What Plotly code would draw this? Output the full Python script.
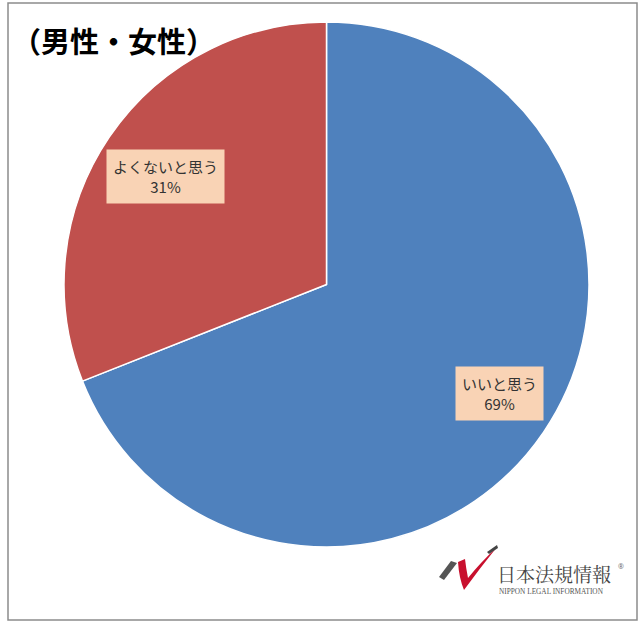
import plotly.graph_objects as go

labels = ["いいと思う", "よくないと思う"]
values = [69, 31]
colors = ["#4F81BD", "#C0504D"]
title_text = "（男性・女性）"

W, H = 640, 623

def px(x): return x / W
def py(y): return 1 - y / H

fig = go.Figure()
fig.add_trace(go.Pie(
    labels=labels, values=values, sort=False, direction="clockwise", rotation=0,
    marker=dict(colors=colors, line=dict(color="white", width=1.5)),
    textinfo="none", hoverinfo="label+percent", showlegend=False,
    domain=dict(x=[px(63), px(590)], y=[py(547), py(22)]),
))

font_jp = "Noto Sans CJK JP"
# data labels
label_pos = [(499, 393), (165, 176)]
for lab, val, (x, y) in zip(labels, values, label_pos):
    fig.add_annotation(x=px(x), y=py(y), xref="paper", yref="paper",
                       xanchor="center", yanchor="middle",
                       text=f"{lab}<br>{val}%", showarrow=False,
                       font=dict(family=font_jp, size=15, color="#333333"),
                       bgcolor="#F9D3B5", borderpad=6, align="center")

fig.add_annotation(x=px(10), y=py(40), xref="paper", yref="paper", xanchor="left",
                   yanchor="middle",
                   text=f"<b>{title_text}</b>", showarrow=False,
                   font=dict(family=font_jp, size=29, color="#000000"))

# logo
fig.add_annotation(x=px(495), y=py(573), xref="paper", yref="paper", xanchor="left",
                   yanchor="middle",
                   text="日本法規情報", showarrow=False,
                   font=dict(family="Noto Serif CJK JP, Noto Sans CJK JP", size=19, color="#444444"))
fig.add_annotation(x=px(616), y=py(566), xref="paper", yref="paper", xanchor="left",
                   yanchor="middle",
                   text="®", showarrow=False, font=dict(size=7, color="#666666"))
fig.add_annotation(x=px(497), y=py(591), xref="paper", yref="paper", xanchor="left",
                   yanchor="middle",
                   text="NIPPON LEGAL INFORMATION", showarrow=False,
                   font=dict(family="Liberation Serif", size=7.3, color="#555555"))

shapes = [
    dict(type="rect", xref="paper", yref="paper", x0=px(8), x1=px(637), y0=py(620), y1=py(3),
         line=dict(color="#8C8C8C", width=1.5), fillcolor="rgba(0,0,0,0)"),
    dict(type="path", xref="paper", yref="paper",
         path=f"M {px(439)},{py(577)} L {px(451)},{py(561)} L {px(457)},{py(563)} L {px(444)},{py(580)} Z",
         fillcolor="#555555", line=dict(width=0)),
    dict(type="path", xref="paper", yref="paper",
         path=f"M {px(458)},{py(562)} Q {px(459)},{py(578)} {px(464)},{py(590)} Q {px(480)},{py(568)} {px(497)},{py(547)} Q {px(480)},{py(563)} {px(468)},{py(578)} Q {px(466)},{py(568)} {px(465)},{py(559)} Z",
         fillcolor="#C8102E", line=dict(width=0)),
    dict(type="path", xref="paper", yref="paper",
         path=f"M {px(487)},{py(552)} L {px(497)},{py(545)} L {px(498)},{py(548)} L {px(489)},{py(554)} Z",
         fillcolor="#444444", line=dict(width=0)),
]
fig.update_layout(width=W, height=H, margin=dict(l=0, r=0, t=0, b=0),
                  paper_bgcolor="white", plot_bgcolor="white", shapes=shapes)
fig.write_html("out.html", config={"displayModeBar": False},
               post_script="document.body.style.margin='0';document.body.style.overflow='hidden';")
